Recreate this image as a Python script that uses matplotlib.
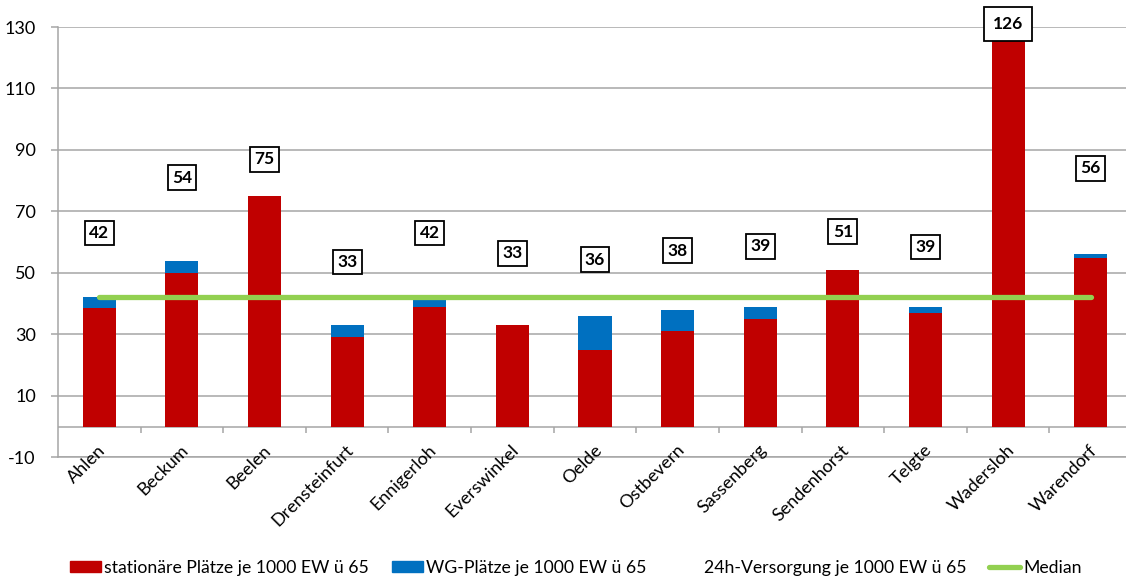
import numpy as np
import matplotlib
matplotlib.use("Agg")
import matplotlib.pyplot as plt
import matplotlib.transforms as mtransforms
from matplotlib.patches import Patch
from matplotlib.lines import Line2D

plt.rcParams['font.family'] = ['Lato', 'DejaVu Sans']
plt.rcParams['axes.unicode_minus'] = False

orte = ['Ahlen', 'Beckum', 'Beelen', 'Drensteinfurt', 'Ennigerloh', 'Everswinkel',
        'Oelde', 'Ostbevern', 'Sassenberg', 'Sendenhorst', 'Telgte', 'Wadersloh', 'Warendorf']
stationaer = [38.5, 50, 75, 29, 39, 33, 25, 31, 35, 51, 37, 126, 55]
wg_plaetze = [3.5, 4, 0, 4, 3, 0, 11, 7, 4, 0, 2, 0, 1]
median = 42

# height of the value boxes above each bar
label_hoehe = [63, 81, 87, 53.5, 63, 56.4, 54.3, 57.2, 58.6, 63.4, 58.4, 131, 84]

rot = '#C00000'
blau = '#0070C0'
gruen = '#92D050'
grau = '#A6A6A6'

x = np.arange(len(orte))
summe = np.array(stationaer) + np.array(wg_plaetze)

fig = plt.figure(figsize=(11.26, 5.81), dpi=100)
ax = fig.add_axes([58 / 1126, 1 - 457.3 / 581, 1074 / 1126, 430.3 / 581])

ax.bar(x, stationaer, width=0.4, color=rot, zorder=3)
ax.bar(x, wg_plaetze, width=0.4, bottom=stationaer, color=blau, zorder=3)
ax.plot([x[0], x[-1]], [median, median], color=gruen, lw=3.8,
        solid_capstyle='round', zorder=4)

for i, (s, h) in enumerate(zip(summe, label_hoehe)):
    txt = f'{int(round(s))}'
    pad = 0.5 if len(txt) > 2 else 0.25
    ax.text(i, h, txt, ha='center', va='center', fontsize=12.5, fontweight='bold',
            zorder=6, clip_on=False,
            bbox=dict(boxstyle=f'square,pad={pad}', fc='white', ec='black', lw=1.3))

ax.set_xlim(-0.5, len(orte) - 0.5)
ax.set_ylim(-10, 130)
ax.set_yticks(np.arange(-10, 131, 20))
ax.yaxis.grid(True, color=grau, lw=1.1, zorder=0)
ax.tick_params(axis='y', length=5, color=grau, width=1.1, labelsize=13, pad=11)
ax.set_xticks([])

for side in ['top', 'right']:
    ax.spines[side].set_visible(False)
ax.spines['left'].set_color(grau)
ax.spines['left'].set_linewidth(1.1)
ax.spines['bottom'].set_color(grau)
ax.spines['bottom'].set_linewidth(1.1)

# category axis sits at zero, with marks between the towns
ax.axhline(0, color=grau, lw=1.1, zorder=2)
ax.vlines(np.arange(0.5, len(orte) - 0.5), -2, 0, color=grau, lw=1.1, zorder=2)

for i, ort in enumerate(orte):
    trans = mtransforms.offset_copy(ax.transData, fig=fig, x=4, y=-21, units='dots')
    ax.text(i, 0, ort, rotation=45, rotation_mode='anchor', ha='right', va='center',
            fontsize=13, transform=trans)

handles = [
    Patch(color=rot, label='stationäre Plätze je 1000 EW ü 65'),
    Patch(color=blau, label='WG-Plätze je 1000 EW ü 65'),
    Patch(facecolor='none', edgecolor='none', label='24h-Versorgung je 1000 EW ü 65'),
    Line2D([], [], color=gruen, lw=3.8, solid_capstyle='round', label='Median'),
]
fig.legend(handles=handles, loc='center', bbox_to_anchor=(576 / 1126, 13 / 581), ncol=4,
           frameon=False, fontsize=12.7, handlelength=1.75, handleheight=0.6,
           handletextpad=0.2, columnspacing=1.3)

fig.savefig('out.png', dpi=100)
